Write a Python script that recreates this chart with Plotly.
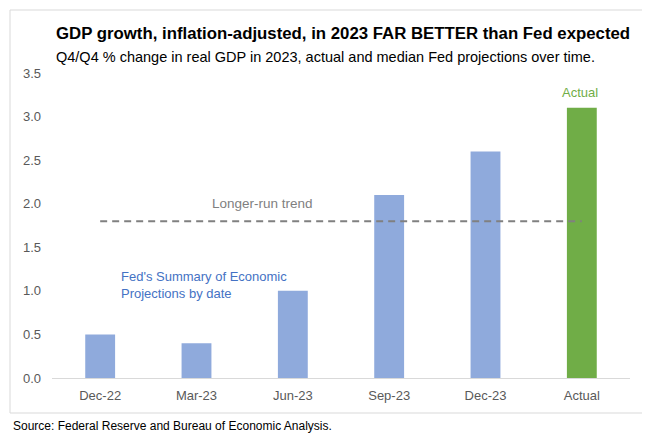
import plotly.graph_objects as go

categories = ["Dec-22", "Mar-23", "Jun-23", "Sep-23", "Dec-23", "Actual"]
values = [0.5, 0.4, 1.0, 2.1, 2.6, 3.1]
bar_colors = ["#8FAADC", "#8FAADC", "#8FAADC", "#8FAADC", "#8FAADC", "#70AD47"]
trend_value = 1.8
y_ticks = [0.0, 0.5, 1.0, 1.5, 2.0, 2.5, 3.0, 3.5]

# The page body has a default 8px margin, so lay out in a smaller canvas shifted by 8px.
OFF = 8
W, H = 650 - OFF, 438 - OFF
L, R, T, B = 52 - OFF, 20, 73 - OFF, 60
pw, ph = W - L - R, H - T - B


def px(x):
    return (x - OFF - L) / pw


def py(y):
    return (H - B - (y - OFF)) / ph


FONT = "Liberation Sans, Arial, sans-serif"

fig = go.Figure()
fig.add_trace(go.Bar(x=categories, y=values, marker=dict(color=bar_colors, line=dict(width=0)),
                     hoverinfo="x+y", showlegend=False))
fig.add_trace(go.Scatter(x=[categories[0], categories[-1]], y=[trend_value, trend_value], mode="lines",
                         line=dict(color="#808080", width=2, dash="7px,5px"), showlegend=False,
                         hoverinfo="skip"))

annotations = [
    dict(text="<b>GDP growth, inflation-adjusted, in 2023 FAR BETTER than Fed expected</b>",
         x=px(54), y=py(33), xanchor="left", yanchor="middle",
         font=dict(size=16.8, color="#000000", family=FONT)),
    dict(text="Q4/Q4 % change in real GDP in 2023, actual and median Fed projections over time.",
         x=px(54), y=py(57), xanchor="left", yanchor="middle",
         font=dict(size=14.5, color="#000000", family=FONT)),
    dict(text="Source: Federal Reserve and Bureau of Economic Analysis.",
         x=px(11), y=py(426), xanchor="left", yanchor="middle",
         font=dict(size=12, color="#000000", family=FONT)),
    dict(text="Fed's Summary of Economic<br>Projections by date",
         x=px(119), y=py(285), xanchor="left", yanchor="middle", align="left",
         font=dict(size=13, color="#4472C4", family=FONT)),
    dict(text="Longer-run trend",
         x=px(262), y=py(203), xanchor="center", yanchor="middle",
         font=dict(size=13.5, color="#7F7F7F", family=FONT)),
    dict(text="Actual",
         x=px(580), y=py(92), xanchor="center", yanchor="middle",
         font=dict(size=13, color="#70AD47", family=FONT)),
]
for a in annotations:
    a.update(xref="paper", yref="paper", showarrow=False)

fig.update_layout(
    width=W, height=H,
    margin=dict(l=L, r=R, t=T, b=B),
    paper_bgcolor="white", plot_bgcolor="white",
    bargap=0.69,
    annotations=annotations,
    shapes=[dict(type="rect", xref="paper", yref="paper",
                 x0=px(10), x1=px(644), y0=py(413), y1=py(10),
                 line=dict(color="#D9D9D9", width=1), fillcolor="rgba(0,0,0,0)", layer="below")],
    font=dict(family=FONT, color="#595959", size=13),
)
fig.update_xaxes(showgrid=False, showline=True, linecolor="#D9D9D9", linewidth=1,
                 ticks="", ticklabelstandoff=5,
                 tickfont=dict(size=13, color="#595959"), fixedrange=True)
fig.update_yaxes(range=[0, 3.5], tickvals=y_ticks, ticktext=[f"{v:.1f}" for v in y_ticks],
                 showgrid=False, zeroline=False, showline=False, ticks="", ticklabelstandoff=10,
                 tickfont=dict(size=13, color="#595959"), fixedrange=True)

fig.write_html("out.html")
